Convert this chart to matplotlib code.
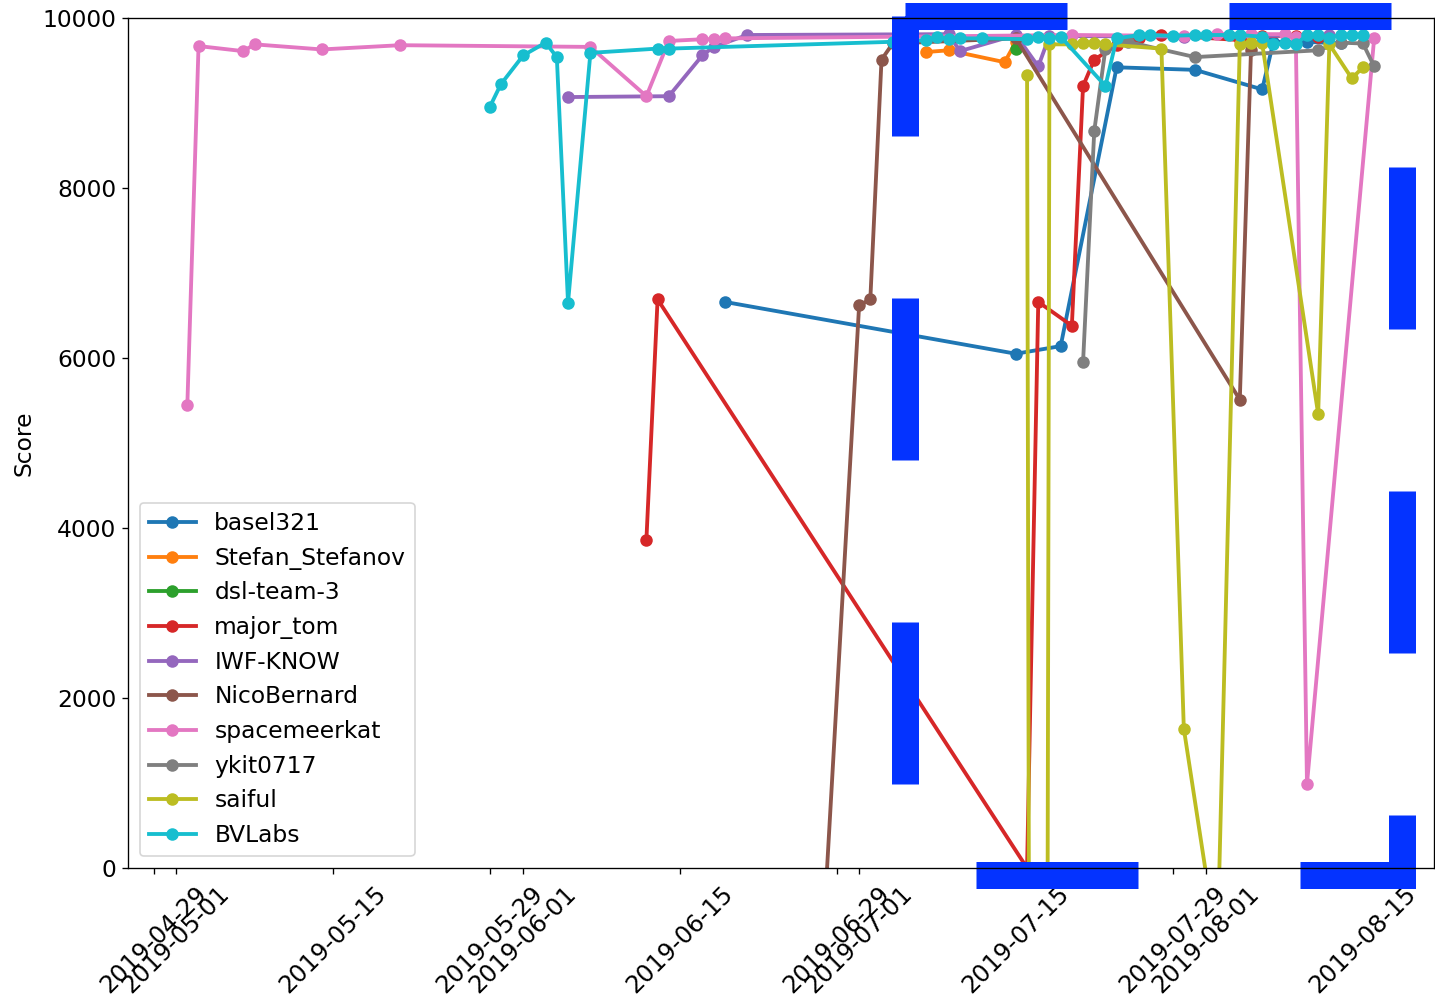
import matplotlib
matplotlib.use("Agg")
import matplotlib.pyplot as plt
import matplotlib.dates as mdates
import pandas as pd

plt.rcParams["font.size"] = 14

# Submission history per team (date, score)
basel321_dates = ["2019-06-19", "2019-07-15", "2019-07-19", "2019-07-24", "2019-07-31",
                  "2019-08-06", "2019-08-07", "2019-08-10", "2019-08-13"]
basel321_scores = [6660, 6050, 6140, 9420, 9390, 9160, 9720, 9720, 9700]

stefan_dates = ["2019-07-07", "2019-07-09", "2019-07-14", "2019-07-15"]
stefan_scores = [9600, 9620, 9480, 9720]

dsl_dates = ["2019-07-15"]
dsl_scores = [9630]

major_tom_dates = ["2019-06-12", "2019-06-13", "2019-07-16", "2019-07-17", "2019-07-20",
                   "2019-07-21", "2019-07-22", "2019-07-24", "2019-07-25", "2019-07-26",
                   "2019-07-28", "2019-08-04", "2019-08-06", "2019-08-09", "2019-08-11"]
major_tom_scores = [3860, 6690, 0, 6660, 6380, 9200, 9510, 9680, 9730, 9760,
                    9800, 9740, 9790, 9790, 9780]

iwf_dates = ["2019-06-05", "2019-06-14", "2019-06-17", "2019-06-18", "2019-06-21",
             "2019-07-09", "2019-07-10", "2019-07-15", "2019-07-17", "2019-07-18",
             "2019-07-30", "2019-08-12"]
iwf_scores = [9070, 9080, 9560, 9660, 9800, 9810, 9610, 9800, 9430, 9790, 9780, 9800]

nico_dates = ["2019-06-27", "2019-07-01", "2019-07-02", "2019-07-03", "2019-07-04",
              "2019-07-15", "2019-08-04", "2019-08-05"]
nico_scores = [-2630, 6620, 6690, 9510, 9700, 9760, 5510, 9620]

spacemeerkat_dates = ["2019-05-02", "2019-05-03", "2019-05-07", "2019-05-08", "2019-05-14",
                      "2019-05-21", "2019-06-07", "2019-06-12", "2019-06-14", "2019-06-17",
                      "2019-06-18", "2019-06-19", "2019-07-20", "2019-07-30", "2019-08-02",
                      "2019-08-05", "2019-08-08", "2019-08-09", "2019-08-10", "2019-08-16"]
spacemeerkat_scores = [5450, 9670, 9610, 9690, 9630, 9680, 9660, 9080, 9730, 9750,
                       9750, 9760, 9800, 9790, 9810, 9810, 9810, 9780, 990, 9760]

ykit_dates = ["2019-07-21", "2019-07-22", "2019-07-23", "2019-07-25", "2019-07-31",
              "2019-08-11", "2019-08-13", "2019-08-15", "2019-08-16"]
ykit_scores = [5950, 8670, 9640, 9720, 9540, 9620, 9710, 9700, 9430]

saiful_dates = ["2019-07-16", "2019-07-17", "2019-07-18", "2019-07-20", "2019-07-21",
                "2019-07-22", "2019-07-23", "2019-07-28", "2019-07-30", "2019-08-02",
                "2019-08-04", "2019-08-05", "2019-08-06", "2019-08-11", "2019-08-12",
                "2019-08-14", "2019-08-15"]
saiful_scores = [9330, -50000, 9690, 9690, 9710, 9710, 9690, 9640, 1640, -940,
                 9690, 9710, 9700, 5340, 9690, 9290, 9420]

bvlabs_dates = ["2019-05-29", "2019-05-30", "2019-06-01", "2019-06-03", "2019-06-04",
                "2019-06-05", "2019-06-07", "2019-06-13", "2019-06-14", "2019-07-04",
                "2019-07-07", "2019-07-08", "2019-07-09", "2019-07-10", "2019-07-12",
                "2019-07-16", "2019-07-17", "2019-07-18", "2019-07-19", "2019-07-23",
                "2019-07-24", "2019-07-26", "2019-07-27", "2019-07-29", "2019-07-31",
                "2019-08-01", "2019-08-03", "2019-08-04", "2019-08-06", "2019-08-07",
                "2019-08-08", "2019-08-09", "2019-08-10", "2019-08-11", "2019-08-12",
                "2019-08-13", "2019-08-14", "2019-08-15"]
bvlabs_scores = [8950, 9220, 9560, 9710, 9540, 6650, 9590, 9640, 9640, 9720,
                 9740, 9780, 9750, 9760, 9760, 9750, 9780, 9760, 9780, 9200,
                 9760, 9800, 9800, 9790, 9800, 9800, 9800, 9800, 9780, 9690,
                 9700, 9690, 9800, 9800, 9770, 9800, 9800, 9800]

teams = [
    ("basel321", basel321_dates, basel321_scores),
    ("Stefan_Stefanov", stefan_dates, stefan_scores),
    ("dsl-team-3", dsl_dates, dsl_scores),
    ("major_tom", major_tom_dates, major_tom_scores),
    ("IWF-KNOW", iwf_dates, iwf_scores),
    ("NicoBernard", nico_dates, nico_scores),
    ("spacemeerkat", spacemeerkat_dates, spacemeerkat_scores),
    ("ykit0717", ykit_dates, ykit_scores),
    ("saiful", saiful_dates, saiful_scores),
    ("BVLabs", bvlabs_dates, bvlabs_scores),
]

# highlighted period (final phase of the competition)
highlight_start = pd.Timestamp("2019-07-05 02:00")
highlight_end = pd.Timestamp("2019-08-18 12:00")
highlight_low, highlight_high = -82, 10018

fig = plt.figure(figsize=(1435 / 120, 1002 / 120), dpi=120)
ax = fig.add_axes([128 / 1435, 1 - 868 / 1002, 1305.5 / 1435, 850 / 1002])

for name, dates, scores in teams:
    ax.plot(pd.to_datetime(dates), scores, "o-", label=name, linewidth=2.3, markersize=6.5)

ax.set_ylim(0, 10000)
ax.set_ylabel("Score")
ax.xaxis.set_major_locator(mdates.DayLocator(bymonthday=[1, 15, 29]))
ax.xaxis.set_major_formatter(mdates.DateFormatter("%Y-%m-%d"))
ax.tick_params(axis="x", labelsize=14.5, pad=4.5)
ax.legend(loc="lower left")
plt.setp(ax.get_xticklabels(), rotation=45)

# dashed frame around the highlighted period
ax.plot([highlight_start, highlight_end, highlight_end, highlight_start, highlight_start],
        [highlight_high, highlight_high, highlight_low, highlight_low, highlight_high],
        color="#0433ff", linewidth=16.2, linestyle=(0, (6, 6)), clip_on=False,
        dash_joinstyle="miter", scalex=False, scaley=False)

fig.savefig("out.png", dpi=120)
